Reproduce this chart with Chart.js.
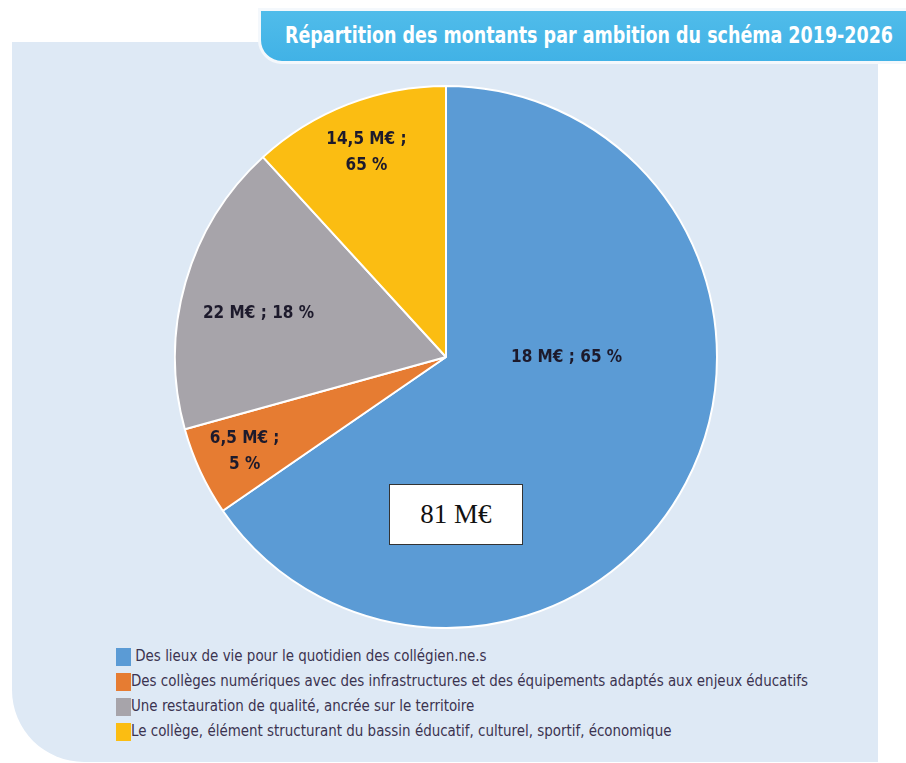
<!DOCTYPE html>
<html>
<head>
<meta charset="utf-8">
<script src="https://cdn.jsdelivr.net/npm/chart.js@4/dist/chart.umd.min.js"></script>
<style>
  html, body { margin: 0; padding: 0; background: #fff; }
  body { width: 906px; height: 763px; position: relative; overflow: hidden; font-family: "DejaVu Sans Condensed", "Liberation Sans", sans-serif; }
  .panel { position: absolute; left: 12px; top: 42px; width: 866px; height: 720px; background: #dee9f5; border-radius: 0 12px 0 72px; }
  .banner { position: absolute; left: 258px; top: 8px; width: 660px; height: 56px; background: linear-gradient(#50bcea, #41b2e6); border: 3px solid #f4f8fc; border-radius: 0 0 0 24px; box-sizing: border-box; }
  .banner span { position: absolute; left: 24px; top: 11px; color: #fff; font-weight: bold; font-size: 23px; white-space: nowrap; transform-origin: 0 50%; }
  #wrap { position: absolute; left: 174px; top: 85px; width: 544px; height: 544px; }
  .total { position: absolute; left: 389px; top: 484px; width: 134px; height: 61px; box-sizing: border-box; background: #fff; border: 1.5px solid #333; font-family: "Liberation Serif", serif; font-size: 27px; color: #111; text-align: center; line-height: 58px; }
  #legend { position: absolute; left: 116px; top: 646px; }
  .item { height: 25px; position: relative; font-size: 16px; color: #3b3350; white-space: nowrap; }
  .item i { position: absolute; left: 0; top: 2px; width: 15px; height: 18px; }
  .item span { position: absolute; left: 15px; top: 0; line-height: 20px; transform-origin: 0 50%; }
</style>
</head>
<body>
<div class="panel"></div>
<div class="banner"><span id="title">Répartition des montants par ambition du schéma 2019-2026</span></div>
<div id="wrap"><canvas id="pie"></canvas></div>
<div class="total">81 M€</div>
<div id="legend"></div>
<script>
// ── Data
const ambitions = [
  'Des lieux de vie pour le quotidien des collégien.ne.s',
  'Des collèges numériques avec des infrastructures et des équipements adaptés aux enjeux éducatifs',
  'Une restauration de qualité, ancrée sur le territoire',
  'Le collège, élément structurant du bassin éducatif, culturel, sportif, économique'
];
const shares = [65.4, 5.3, 17.5, 11.8];          // slice sizes as drawn
const amounts = ['18', '6,5', '22', '14,5'];       // M€ printed on slices
const pctPrinted = ['65', '5', '18', '65'];        // % printed on slices
const colors = ['#5b9bd5', '#e67c32', '#a7a4aa', '#fbbd12'];

// label placement per slice: radius fraction, optional angle (deg, canvas coords), two lines?
const labelPlace = [
  { r: 0.445, angle: 0, split: false },
  { r: 0.82, split: true },
  { r: 0.71, angle: 193, split: false },
  { r: 0.81, split: true }
];

const sliceLabels = {
  id: 'sliceLabels',
  afterDatasetsDraw(chart) {
    const { ctx } = chart;
    const arcs = chart.getDatasetMeta(0).data;
    ctx.save();
    ctx.font = 'bold 17px "DejaVu Sans Condensed", sans-serif';
    ctx.fillStyle = '#1d1a2c';
    ctx.textAlign = 'center';
    ctx.textBaseline = 'middle';
    arcs.forEach((arc, i) => {
      const p = labelPlace[i];
      const a = p.angle != null ? p.angle * Math.PI / 180 : (arc.startAngle + arc.endAngle) / 2;
      const r = arc.outerRadius * p.r;
      const x = arc.x + Math.cos(a) * r;
      const y = arc.y + Math.sin(a) * r;
      const lines = p.split
        ? [`${amounts[i]} M€ ;`, `${pctPrinted[i]} %`]
        : [`${amounts[i]} M€ ; ${pctPrinted[i]} %`];
      lines.forEach((t, k) => {
        ctx.save();
        ctx.translate(x, y + (k - (lines.length - 1) / 2) * 26);
        ctx.scale(1.0, 1.05);
        ctx.fillText(t, 0, 0);
        ctx.restore();
      });
    });
    ctx.restore();
  }
};

new Chart(document.getElementById('pie'), {
  type: 'pie',
  data: {
    labels: ambitions,
    datasets: [{
      data: shares,
      backgroundColor: colors,
      borderColor: '#ffffff',
      borderWidth: 2
    }]
  },
  options: {
    responsive: true,
    maintainAspectRatio: false,
    animation: false,
    layout: { padding: 0 },
    plugins: { legend: { display: false }, tooltip: { enabled: false } }
  },
  plugins: [sliceLabels]
});

// ── Legend
document.getElementById('legend').innerHTML = ambitions.map((t, i) =>
  `<div class="item"><i style="background:${colors[i]}"></i><span>${i === 0 ? '&nbsp;' : ''}${t}</span></div>`
).join('');

// squeeze text to the condensed widths of the original
const title = document.getElementById('title');
title.style.transform = `scaleX(${608 / title.getBoundingClientRect().width})`;
const spans = [...document.querySelectorAll('.item span')];
const k = 677 / spans[1].getBoundingClientRect().width;
spans.forEach(s => s.style.transform = `scaleX(${k})`);
</script>
</body>
</html>
